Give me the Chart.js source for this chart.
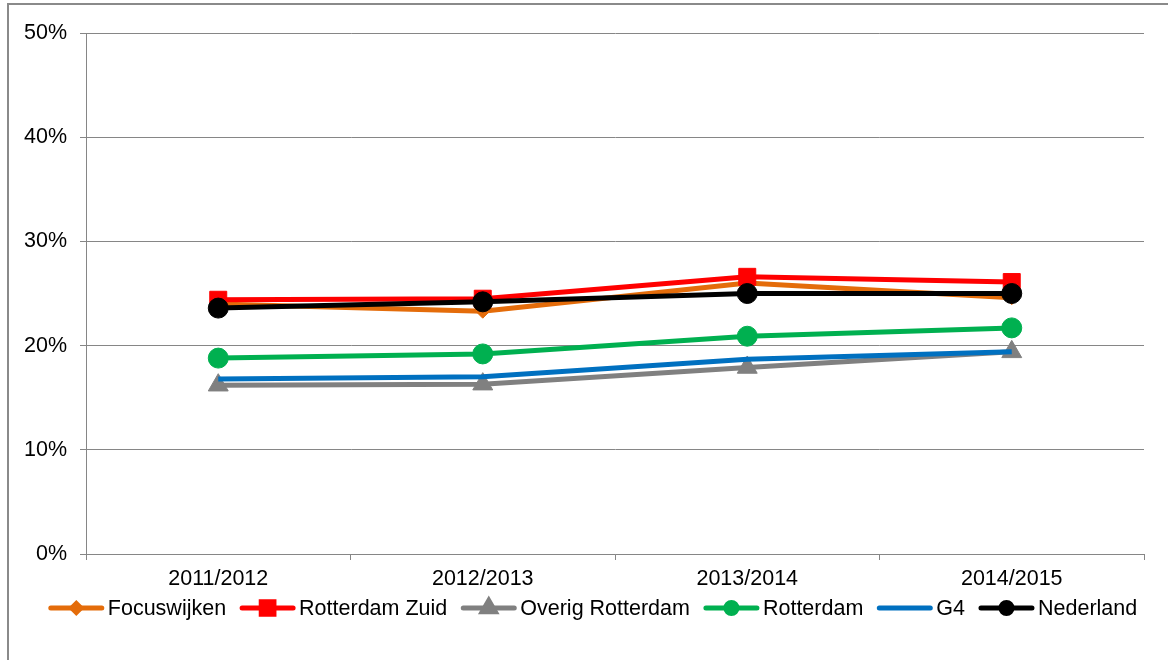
<!DOCTYPE html>
<html>
<head>
<meta charset="utf-8">
<script src="https://cdn.jsdelivr.net/npm/chart.js@4/dist/chart.umd.min.js"></script>
<style>
  html, body { margin: 0; padding: 0; background: #fff; overflow: hidden; }
  #wrap { position: relative; width: 1168px; height: 660px; }
</style>
</head>
<body>
<div id="wrap"><canvas id="chart" width="1168" height="660"></canvas></div>
<script>
const years = ["2011/2012", "2012/2013", "2013/2014", "2014/2015"];
const focuswijken = [0.240, 0.233, 0.260, 0.246];
const rotterdamZuid = [0.244, 0.245, 0.266, 0.261];
const overigRotterdam = [0.162, 0.163, 0.179, 0.194];
const rotterdam = [0.188, 0.192, 0.209, 0.217];
const g4 = [0.168, 0.170, 0.187, 0.194];
const nederland = [0.236, 0.242, 0.250, 0.250];
const yTicks = [0, 0.1, 0.2, 0.3, 0.4, 0.5];

const FONT = "'Liberation Sans', Arial, sans-serif";
const FSIZE = 21.5;
const GRID = "#868686";

const series = [
  { label: "Focuswijken", data: focuswijken, color: "#E46C0A", style: "rectRot", r: 7, lr: 4.5 },
  { label: "Rotterdam Zuid", data: rotterdamZuid, color: "#FF0000", style: "rect", r: 12, lr: 9 },
  { label: "Overig Rotterdam", data: overigRotterdam, color: "#808080", style: "triangle", r: 11.5, lr: 7.5 },
  { label: "Rotterdam", data: rotterdam, color: "#00B050", style: "circle", r: 10, lr: 5.5 },
  { label: "G4", data: g4, color: "#0070C0", style: false, r: 0, lr: 0 },
  { label: "Nederland", data: nederland, color: "#000000", style: "circle", r: 10, lr: 5.5 }
];

// Excel-like legend: line with marker in the middle, then text
const legendPlugin = {
  id: "excelLegend",
  afterDraw(chart) {
    const ctx = chart.ctx;
    ctx.save();
    ctx.font = FSIZE + "px " + FONT;
    const lineLen = 55, gapText = 4, gapItem = 14;
    let total = 0;
    series.forEach((s, i) => {
      total += lineLen + gapText + ctx.measureText(s.label).width;
      if (i < series.length - 1) total += gapItem;
    });
    let x = 593 - total / 2;
    const y = 608;
    series.forEach(s => {
      ctx.strokeStyle = s.color;
      ctx.lineWidth = 5;
      ctx.lineCap = "round";
      ctx.beginPath();
      ctx.moveTo(x + 2, y);
      ctx.lineTo(x + lineLen - 2, y);
      ctx.stroke();
      if (s.style) {
        ctx.fillStyle = s.color;
        ctx.strokeStyle = s.color;
        Chart.helpers.drawPoint(ctx, { pointStyle: s.style, radius: s.lr, rotation: 0, borderWidth: 1 }, x + lineLen / 2, y);
      }
      x += lineLen + gapText;
      ctx.fillStyle = "#000";
      ctx.textBaseline = "middle";
      ctx.textAlign = "left";
      ctx.fillText(s.label, x, y + 1);
      x += ctx.measureText(s.label).width + gapItem;
    });
    // outer frame
    ctx.strokeStyle = "#8a8a8a";
    ctx.lineWidth = 2;
    ctx.beginPath();
    ctx.moveTo(8, 660);
    ctx.lineTo(8, 4);
    ctx.lineTo(1168, 4);
    ctx.stroke();
    ctx.restore();
  }
};

new Chart(document.getElementById("chart"), {
  type: "line",
  data: {
    labels: years,
    datasets: series.map((s, i) => ({
      label: s.label,
      data: s.data,
      borderColor: s.color,
      backgroundColor: s.color,
      borderWidth: 5,
      pointStyle: s.style,
      pointRadius: s.r,
      pointHoverRadius: s.r,
      pointBorderWidth: 1,
      pointBorderColor: s.color,
      pointBackgroundColor: s.color,
      tension: 0,
      order: series.length - i
    }))
  },
  options: {
    responsive: false,
    animation: false,
    devicePixelRatio: 1,
    layout: { padding: { top: 33, right: 24, left: 0, bottom: 0 } },
    plugins: { legend: { display: false }, tooltip: { enabled: false } },
    scales: {
      x: {
        offset: true,
        grid: { display: true, drawOnChartArea: false, offset: true, color: GRID, tickLength: 6 },
        border: { color: GRID, width: 1 },
        ticks: { color: "#000", font: { family: FONT, size: FSIZE }, padding: 6, maxRotation: 0 },
        afterFit(scale) { scale.height = 106; }
      },
      y: {
        min: 0,
        max: 0.5,
        afterBuildTicks(scale) { scale.ticks = yTicks.map(v => ({ value: v })); },
        grid: { color: GRID, lineWidth: 1, tickLength: 6 },
        border: { color: GRID, width: 1 },
        ticks: {
          color: "#000",
          font: { family: FONT, size: FSIZE },
          padding: 13,
          callback: v => Math.round(v * 100) + "%"
        },
        afterFit(scale) { scale.width = 86; }
      }
    }
  },
  plugins: [legendPlugin]
});
</script>
</body>
</html>
